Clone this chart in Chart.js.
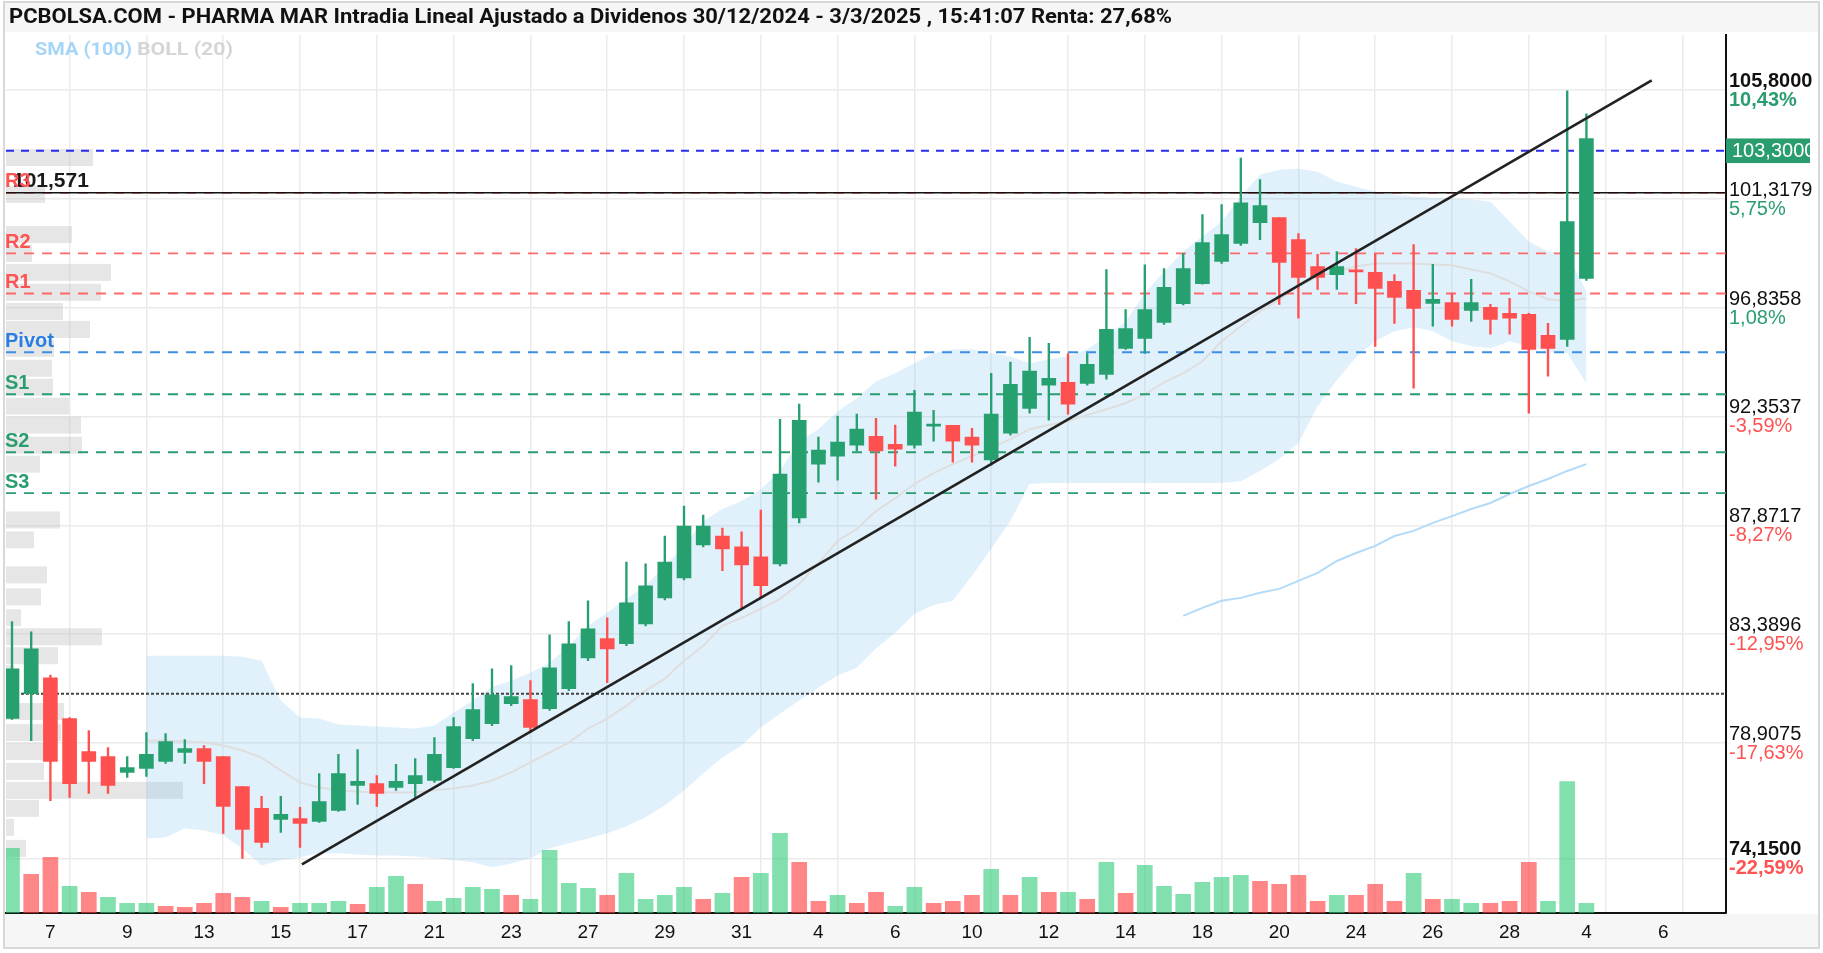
<!DOCTYPE html>
<html><head><meta charset="utf-8">
<script src="https://cdn.jsdelivr.net/npm/chart.js@4.4.1/dist/chart.umd.min.js"></script>
<style>html,body{margin:0;padding:0;background:#fff;overflow:hidden}#wrap{width:1823px;height:953px}</style>
</head><body><div id="wrap"><canvas id="c" width="1823" height="953"></canvas></div>
<script>
const titleText = 'PCBOLSA.COM - PHARMA MAR Intradia Lineal Ajustado a Dividenos 30/12/2024 - 3/3/2025 , 15:41:07 Renta: 27,68%';
const dateLabels = ['7','9','13','15','17','21','23','27','29','31','4','6','10','12','14','18','20','24','26','28','4','6'];

const openP = [79.91,80.93,81.59,79.91,78.55,78.34,77.69,77.85,78.14,78.51,
78.67,78.34,77.11,76.21,75.75,75.79,75.67,76.12,77.15,77.23,
77.07,77.23,77.36,77.89,79.08,79.70,80.52,80.69,80.32,81.14,
82.41,83.20,82.99,83.81,84.88,85.70,87.06,87.43,86.98,86.57,
86.28,88.17,90.39,90.72,91.17,91.54,91.21,91.17,91.95,91.99,
91.50,90.56,91.67,92.69,93.64,93.76,93.72,94.09,95.16,95.57,
96.23,97.00,97.83,98.74,99.48,100.34,100.55,99.64,98.53,98.20,
98.37,98.29,97.92,97.55,97.01,97.05,96.72,96.85,96.60,96.56,
95.70,95.53,98.04];
const highP = [83.90,83.48,81.70,79.95,79.41,78.71,78.34,79.33,79.29,79.04,
78.80,78.34,77.11,76.70,76.70,76.25,77.64,78.43,78.63,77.56,
78.02,78.26,79.13,79.95,81.35,81.96,82.09,81.47,83.36,83.90,
84.76,84.06,86.36,86.28,87.43,88.66,88.29,87.76,87.60,88.50,
92.24,92.86,91.50,92.37,92.45,92.28,92.00,93.43,92.61,91.99,
91.87,94.13,94.59,95.61,95.37,94.95,94.95,98.41,96.76,98.60,
98.45,99.07,100.67,101.08,103.00,102.11,100.55,99.89,99.03,99.15,
99.27,99.03,98.20,99.44,98.62,97.42,98.00,96.97,97.22,96.60,
96.19,105.77,104.82];
const lowP = [79.87,79.00,76.53,76.66,76.82,76.82,77.48,77.52,78.06,78.06,
77.23,75.18,74.15,74.60,75.22,74.60,75.63,76.08,76.37,76.29,
76.95,76.66,77.28,77.85,79.00,79.62,80.44,79.33,80.24,81.06,
82.29,81.39,82.91,83.73,84.80,85.62,86.98,86.00,84.47,84.88,
86.20,87.97,89.65,89.73,90.93,88.95,90.31,91.05,91.34,90.47,
90.47,90.35,91.58,92.49,92.20,92.45,93.64,93.89,95.12,94.95,
96.15,96.95,97.80,98.66,99.40,99.64,96.97,96.40,97.59,97.59,
97.00,95.24,96.19,93.52,96.07,96.07,96.27,95.74,95.74,92.49,
94.01,95.24,97.96];
const closeP = [81.96,82.78,78.14,77.23,78.14,77.15,77.89,78.43,78.96,78.67,
78.14,76.29,75.34,74.81,75.96,75.59,76.49,77.64,77.32,76.82,
77.32,77.56,78.43,79.58,80.28,80.89,80.81,79.54,82.00,82.99,
83.61,82.78,84.68,85.38,86.36,87.84,87.84,86.90,86.24,85.38,
89.98,92.20,90.97,91.30,91.83,90.93,91.01,92.53,92.04,91.34,
91.17,92.45,93.68,94.22,93.93,92.86,94.50,95.94,95.98,96.76,
97.67,98.45,99.52,99.85,101.16,101.04,98.70,98.08,98.08,98.53,
98.31,97.63,97.26,96.81,97.18,96.35,97.05,96.35,96.40,95.12,
95.16,100.38,103.80];

const volume = [65,39,56,27,21,16,10,10,7,6,
10,20,16,12,6,10,10,12,9,26,
37,29,12,15,26,24,18,14,63,30,
25,18,40,14,18,26,14,20,36,40,
80,51,12,18,10,21,7,26,10,12,
18,44,18,36,21,21,14,51,20,48,
27,19,31,36,38,32,29,38,12,18,
18,29,12,40,14,14,10,10,12,51,
12,132,10];
const volumeUp = [1,0,0,1,0,1,1,1,0,0,
0,0,0,1,0,1,1,1,0,1,
1,0,1,1,1,1,0,1,1,1,
1,0,1,1,1,1,0,1,0,1,
1,0,0,1,0,0,1,1,0,0,
0,1,0,1,0,1,0,1,0,1,
1,1,1,1,1,0,0,0,0,1,
0,0,0,1,0,1,1,0,0,0,
1,1,1];

const bollStart = 7;
const bollUpper = [82.50,82.50,82.50,82.50,82.50,82.46,82.29,80.65,79.95,79.91,
79.66,79.62,79.58,79.54,79.50,79.62,80.15,80.65,81.22,81.47,
81.80,82.21,82.91,83.73,84.27,84.84,85.38,86.20,87.02,88.05,
88.54,88.87,89.36,90.11,91.34,91.83,92.57,93.11,93.81,94.13,
94.55,94.96,95.12,95.12,94.96,94.83,94.55,94.71,94.83,95.12,
95.66,96.27,97.42,98.33,99.15,99.77,100.39,101.41,102.32,102.52,
102.56,102.44,102.03,101.82,101.62,101.50,101.41,101.37,101.33,101.29,
101.21,100.39,99.56,99.15,99.07,97.51];
const bollLower = [74.97,75.01,75.38,75.30,75.10,74.56,73.86,74.07,74.19,74.36,
74.36,74.31,74.27,74.27,74.23,74.15,74.07,73.99,73.78,73.94,
74.15,74.56,74.77,74.97,75.18,75.47,75.84,76.33,76.95,77.65,
78.30,78.80,79.54,80.11,80.65,81.18,81.68,82.00,82.79,83.44,
84.22,84.59,84.76,85.79,86.90,88.05,89.57,89.61,89.61,89.61,
89.61,89.61,89.61,89.61,89.61,89.61,89.61,89.69,90.11,90.60,
91.26,92.78,93.85,94.79,95.45,95.86,96.03,95.86,95.45,95.25,
95.16,95.45,95.25,95.04,94.96,93.72];
const bollMid = [79.00,79.00,78.96,78.92,78.80,78.59,78.30,77.77,77.28,77.07,
76.95,76.90,76.86,76.86,76.86,76.95,77.03,77.15,77.36,77.69,
78.10,78.51,78.92,79.50,79.91,80.44,81.06,81.55,82.29,82.91,
83.73,84.06,84.43,84.84,85.46,86.30,87.23,87.72,88.46,88.99,
89.57,90.02,90.39,90.72,91.05,91.42,91.83,92.00,92.16,92.41,
92.65,92.90,93.27,93.76,94.13,94.63,95.45,96.07,96.68,97.18,
97.71,98.12,98.33,98.53,98.66,98.66,98.66,98.62,98.58,98.41,
98.25,97.92,97.51,97.18,97.10,97.22];

const smaStart = 61;
const sma100 = [84.14,84.47,84.76,84.88,85.09,85.25,85.58,85.91,86.40,86.73,87.02,
87.43,87.64,87.97,88.25,88.54,88.79,89.16,89.49,89.78,90.11,90.39];

const trendIdx = [15.1, 85.4];
const trendPrice = [73.9, 106.2];

const pivotNames = ['R3','R2','R1','Pivot','S1','S2','S3'];
const pivotValues = [101.57, 99.07, 97.42, 95.00, 93.27, 90.88, 89.20];
const lastPrice = 103.3;
const refLevel = 101.571;
const dottedLevel = 80.93;

const axisValues = [105.8, 101.3179, 96.8358, 92.3537, 87.8717, 83.3896, 78.9075, 74.15];
const axisPct = ['10,43%','5,75%','1,08%','-3,59%','-8,27%','-12,95%','-17,63%','-22,59%'];

const profilePrice = [103.02,101.50,99.85,99.07,98.29,97.47,96.68,95.94,95.16,94.34,93.56,92.78,92.00,91.17,90.39,
88.09,87.27,85.83,84.92,84.06,83.28,82.50,81.76,80.20,79.33,78.55,77.73,76.95,76.21,75.43,74.56];
const profileVol = [87,39,66,26,105,95,57,84,48,46,47,63,75,76,34,
54,28,41,35,15,96,52,8,58,55,38,38,177,33,8,20];

// ---- layout / style ----
const xMin = -0.3125, xMax = 89.27;
const yMin = 71.89, yMax = 108.07;
const UP = '#27a06f', DOWN = '#ff5050';
const UPTXT = '#2a9d6f', DOWNTXT = '#ff5252';
const FONT = '"Liberation Sans", Arial, sans-serif';

const idx = openP.map((_, i) => i);
const up = i => closeP[i] >= openP[i];
const slots = Array.from({length: 90}, (_, i) => i);

function hline(v, color, dash, width, order) {
  return {type:'line', data:[{x:xMin,y:v},{x:xMax,y:v}], borderColor:color, borderDash:dash, borderWidth:width,
          pointRadius:0, fill:false, order:order, yAxisID:'y'};
}
const pivotColors = ['rgba(255,82,82,0.85)','rgba(255,82,82,0.85)','rgba(255,82,82,0.85)','#3d8ee6','#2a9d6f','#2a9d6f','#2a9d6f'];
const pivotTextColors = ['#ff5252','#ff5252','#ff5252','#2a7de1','#2a9d6f','#2a9d6f','#2a9d6f'];

const datasets = [
  {type:'bar', yAxisID:'yv', data: idx.map(i => ({x:i, y:volume[i]})),
   backgroundColor: idx.map(i => volumeUp[i] ? 'rgba(46,204,120,0.6)' : 'rgba(255,60,60,0.62)'),
   barThickness:15, grouped:false, order:20},
  {type:'line', yAxisID:'y', data: bollUpper.map((v,k) => ({x:bollStart+k, y:v})), borderWidth:0, borderColor:'rgba(0,0,0,0)', pointRadius:0, fill:false, order:15},
  {type:'line', yAxisID:'y', data: bollLower.map((v,k) => ({x:bollStart+k, y:v})), borderWidth:0, borderColor:'rgba(0,0,0,0)', pointRadius:0, fill:'-1', backgroundColor:'rgba(140,200,245,0.26)', order:15},
  {type:'line', yAxisID:'y', data: bollMid.map((v,k) => ({x:bollStart+k, y:v})), borderWidth:2, borderColor:'#dedede', pointRadius:0, fill:false, order:14},
  {type:'line', yAxisID:'y', data: sma100.map((v,k) => ({x:smaStart+k, y:v})), borderWidth:2, borderColor:'#b3dbf8', pointRadius:0, fill:false, order:13},
  ...pivotValues.map((v,k) => hline(v, pivotColors[k], [10,8], 1.8, 12)),
  hline(dottedLevel, '#444', [3,2], 2, 12),
  hline(lastPrice, '#2b2bf0', [8,7], 2, 11),
  hline(refLevel, '#111', [], 1.6, 11),
  {type:'bar', yAxisID:'y', data: idx.map(i => ({x:i, y:[lowP[i], highP[i]]})),
   backgroundColor: idx.map(i => up(i) ? UP : DOWN), barThickness:1.7, grouped:false, order:6},
  {type:'bar', yAxisID:'y', data: idx.map(i => ({x:i, y:[openP[i], closeP[i]]})),
   backgroundColor: idx.map(i => up(i) ? UP : DOWN), barThickness:14, minBarLength:2, grouped:false, order:5},
  {type:'line', yAxisID:'y', data: trendIdx.map((x,k) => ({x, y:trendPrice[k]})), borderWidth:2.6, borderColor:'#222', pointRadius:0, fill:false, order:2}
];

function fitText(ctx, text, x, y, w) {
  const m = ctx.measureText(text).width;
  ctx.save(); ctx.translate(x, y); ctx.scale(w / m, 1); ctx.fillText(text, 0, 0); ctx.restore();
}
const fmt = v => v.toFixed(4).replace('.', ',');

const deco = {
  id: 'deco',
  beforeDraw(chart) {
    const ctx = chart.ctx;
    ctx.save();
    ctx.fillStyle = '#fff'; ctx.fillRect(0, 0, chart.width, chart.height);
    ctx.fillStyle = '#f6f6f6'; ctx.fillRect(4, 3, 1815, 29);
    ctx.fillStyle = '#f6f6f6'; ctx.fillRect(4, 914, 1815, 34);
    ctx.restore();
  },
  beforeDatasetsDraw(chart) {
    const {ctx, chartArea:a, scales:{y}} = chart;
    ctx.save();
    ctx.beginPath(); ctx.rect(a.left, a.top, a.width, a.height); ctx.clip();
    ctx.fillStyle = 'rgba(190,190,190,0.38)';
    profilePrice.forEach((p, i) => {
      const y0 = y.getPixelForValue(p + 0.35), y1 = y.getPixelForValue(p - 0.35);
      ctx.fillRect(a.left, y0, profileVol[i], y1 - y0);
    });
    ctx.restore();
  },
  afterDraw(chart) {
    const {ctx, chartArea:a, scales:{y}} = chart;
    ctx.save();
    ctx.strokeStyle = '#d8d8d8'; ctx.lineWidth = 2; ctx.strokeRect(4, 2, 1815, 946);
    ctx.textBaseline = 'middle'; ctx.textAlign = 'left';
    ctx.fillStyle = '#111'; ctx.font = 'bold 20px Roboto, ' + FONT;
    fitText(ctx, titleText, 9, 18, 1163);
    ctx.font = 'bold 19px Roboto, ' + FONT;
    ctx.fillStyle = '#a6d5f7'; fitText(ctx, 'SMA (100)', 35, 50, 97);
    ctx.fillStyle = '#d5d5d5'; fitText(ctx, 'BOLL (20)', 137, 50, 96);
    // right axis labels
    axisValues.forEach((v, i) => {
      const py = y.getPixelForValue(v);
      const bold = (i === 0 || i === axisValues.length - 1);
      ctx.font = (bold ? 'bold ' : '') + '20px ' + FONT;
      ctx.fillStyle = '#111'; ctx.fillText(fmt(v), a.right + 3, py - 8.5);
      ctx.fillStyle = axisPct[i].startsWith('-') ? DOWNTXT : UPTXT;
      ctx.fillText(axisPct[i], a.right + 3, py + 10.5);
    });
    // last price box
    const lp = y.getPixelForValue(lastPrice);
    ctx.save();
    ctx.beginPath(); ctx.rect(a.right, lp - 12.5, 84, 25); ctx.clip();
    ctx.fillStyle = '#2a9d6f'; ctx.fillRect(a.right, lp - 12.5, 84, 25);
    ctx.fillStyle = '#fff'; ctx.font = '20px ' + FONT; ctx.fillText(fmt(lastPrice), a.right + 6, lp + 1);
    ctx.restore();
    // reference level label
    const rp = y.getPixelForValue(refLevel);
    ctx.font = 'bold 21px ' + FONT; ctx.fillStyle = '#1a1a1a';
    ctx.fillText(refLevel.toFixed(3).replace('.', ','), 13, rp - 12);
    // pivot labels
    ctx.font = 'bold 20px ' + FONT;
    pivotValues.forEach((v, k) => {
      const py = y.getPixelForValue(v);
      ctx.fillStyle = pivotTextColors[k];
      ctx.fillText(pivotNames[k], 5, py - 11);
    });
    ctx.restore();
  }
};

new Chart(document.getElementById('c'), {
  type: 'bar',
  data: {datasets},
  options: {
    responsive: false, animation: false, devicePixelRatio: 1,
    layout: {padding: {left: 6, top: 35, right: 97, bottom: 1}},
    plugins: {legend: {display: false}, tooltip: {enabled: false}, title: {display: false}},
    scales: {
      x: {type: 'linear', min: xMin, max: xMax, offset: false,
          afterBuildTicks: ax => { ax.ticks = slots.map(v => ({value: v})); },
          ticks: {autoSkip: false, maxRotation: 0, minRotation: 0, padding: 8, color: '#111',
                  font: {family: FONT, size: 19},
                  callback: v => ((v - 2) % 4 === 0 && v >= 2 && dateLabels[(v - 2) / 4]) ? dateLabels[(v - 2) / 4] : ''},
          grid: {drawTicks: false, offset: false, lineWidth: 1.5,
                 color: c => (c.tick && c.tick.value % 4 === 3) ? '#ebebeb' : 'rgba(0,0,0,0)'},
          border: {display: true, color: '#111', width: 2}},
      y: {type: 'linear', position: 'right', min: yMin, max: yMax,
          afterBuildTicks: ax => { ax.ticks = axisValues.map(v => ({value: v})); },
          ticks: {display: false},
          grid: {drawTicks: false, color: '#ebebeb', lineWidth: 1.5},
          border: {display: true, color: '#111', width: 2}},
      yv: {type: 'linear', display: false, min: 0, max: Math.max(...volume) / 0.15}
    }
  },
  plugins: [deco]
});
</script>
</body></html>
